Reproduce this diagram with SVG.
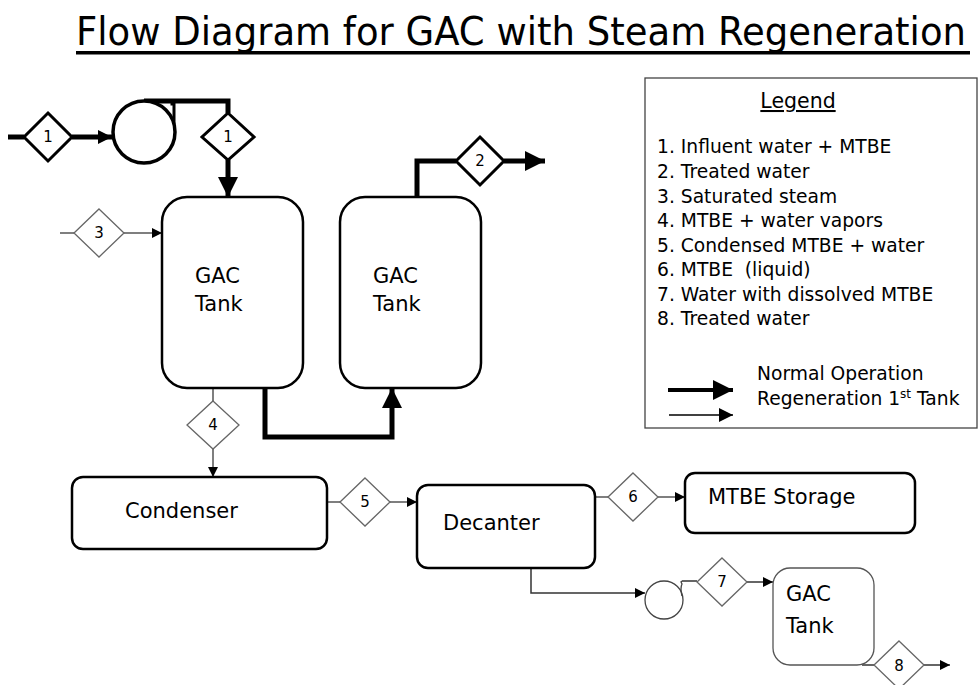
<svg xmlns="http://www.w3.org/2000/svg" width="978" height="685" viewBox="0 0 978 685">
<defs>
<marker id="ah" viewBox="0 0 10 10" refX="10" refY="5" markerWidth="10" markerHeight="10" markerUnits="userSpaceOnUse" orient="auto"><path d="M0,0 L10,5 L0,10 z" fill="#000"/></marker>
<marker id="ahb" viewBox="0 0 10 10" refX="10" refY="5" markerWidth="20" markerHeight="20" markerUnits="userSpaceOnUse" orient="auto"><path d="M0,0 L10,5 L0,10 z" fill="#000"/></marker>
<marker id="ahm" viewBox="0 0 10 10" refX="10" refY="5" markerWidth="14" markerHeight="14" markerUnits="userSpaceOnUse" orient="auto"><path d="M0,0 L10,5 L0,10 z" fill="#000"/></marker>
</defs>
<style>
text{font-family:"DejaVu Sans","Liberation Sans",sans-serif;fill:#000}
.box{fill:#fff;stroke:#000;stroke-width:2.5}
.boxg{fill:#fff;stroke:#555;stroke-width:1.3}
.dk{fill:#fff;stroke:#000;stroke-width:3}
.dg{fill:#fff;stroke:#666;stroke-width:1.3}
.thick{fill:none;stroke:#000;stroke-width:5}
.thin{fill:none;stroke:#555;stroke-width:1.5}
.thinb{fill:none;stroke:#333;stroke-width:1.5}
.lbl{font-size:21px}
.num{font-size:15px;text-anchor:middle}
.leg{font-size:18.7px}
</style>
<rect width="978" height="685" fill="#fff"/>
<g id="title">
<text transform="translate(76,45) scale(1,1.12)" x="0" y="0" font-family="DejaVu Sans Condensed" font-size="35" textLength="890" lengthAdjust="spacingAndGlyphs">Flow Diagram for GAC with Steam Regeneration</text>
<rect x="76" y="51" width="894" height="3.5" fill="#000"/>
</g>
<g id="connectors">
<line class="thick" x1="8" y1="137" x2="24" y2="137"/>
<line class="thick" x1="72" y1="137" x2="112" y2="137" marker-end="url(#ahm)" stroke-width="4"/>
<path class="thick" d="M144,101 H228 V113" stroke-width="4"/>
<line class="thick" x1="228" y1="160" x2="228" y2="197" marker-end="url(#ahb)" stroke-width="5"/>
<line class="thin" x1="60" y1="233" x2="74" y2="233"/>
<line class="thin" x1="124" y1="233" x2="162" y2="233" marker-end="url(#ah)"/>
<path class="thick" d="M417,197 V161 H456" stroke-width="5"/>
<line class="thick" x1="504" y1="161" x2="545" y2="161" marker-end="url(#ahb)" stroke-width="3"/>
<path class="thick" d="M265,388 V437 H392 V388" marker-end="url(#ahb)" stroke-width="5"/>
<line class="thin" x1="213" y1="388" x2="213" y2="401"/>
<line class="thin" x1="213" y1="449" x2="213" y2="477" marker-end="url(#ah)"/>
<line class="thin" x1="327" y1="502" x2="340" y2="502"/>
<line class="thin" x1="390" y1="502" x2="417" y2="502" marker-end="url(#ah)"/>
<line class="thin" x1="595" y1="497" x2="608" y2="497"/>
<line class="thin" x1="658" y1="497" x2="685" y2="497" marker-end="url(#ah)"/>
<path class="thinb" d="M531,568 V593 H645" marker-end="url(#ah)"/>
<line class="thinb" x1="682" y1="581" x2="697" y2="581"/>
<line class="thinb" x1="747" y1="582" x2="773" y2="582" marker-end="url(#ah)"/>
<line class="thinb" x1="862" y1="665" x2="874" y2="665"/>
<line class="thinb" x1="924" y1="665" x2="950" y2="665" marker-end="url(#ah)"/>
</g>
<g id="s1a"><path class="dk" d="M48,113 L72,137 L48,161 L24,137 Z"/><text class="num" x="48" y="142">1</text></g>
<g id="pump1">
<circle cx="144" cy="132" r="31" fill="#fff" stroke="#000" stroke-width="3.5"/>
<path d="M174,124 V104 L172,104 V101" fill="none" stroke="#000" stroke-width="3"/>
</g>
<g id="s1b"><path class="dk" d="M228,113 L254,137 L228,160 L202,137 Z"/><text class="num" x="228" y="142">1</text></g>
<g id="s3"><path class="dg" d="M99,209 L124,233 L99,257 L74,233 Z"/><text class="num" x="99" y="238">3</text></g>
<g id="tank1"><rect class="box" x="162" y="197" width="141" height="191" rx="25"/><text class="lbl" x="195" y="283">GAC</text><text class="lbl" x="195" y="311">Tank</text></g>
<g id="tank2"><rect class="box" x="340" y="197" width="141" height="191" rx="25"/><text class="lbl" x="373" y="283">GAC</text><text class="lbl" x="373" y="311">Tank</text></g>
<g id="s2"><path class="dk" d="M480,137 L504,161 L480,185 L456,161 Z"/><text class="num" x="480" y="166">2</text></g>
<g id="s4"><path class="dg" d="M213,401 L239,425 L213,449 L187,425 Z"/><text class="num" x="213" y="430">4</text></g>
<g id="condenser"><rect class="box" x="72" y="477" width="255" height="72" rx="11"/><text class="lbl" x="125" y="518">Condenser</text></g>
<g id="s5"><path class="dg" d="M365,478 L390,502 L365,526 L340,502 Z"/><text class="num" x="365" y="507">5</text></g>
<g id="decanter"><rect class="box" x="417" y="485" width="178" height="83" rx="11"/><text class="lbl" x="443" y="530">Decanter</text></g>
<g id="s6"><path class="dg" d="M633,473 L658,497 L633,521 L608,497 Z"/><text class="num" x="633" y="502">6</text></g>
<g id="storage"><rect class="box" x="685" y="473" width="230" height="60" rx="10"/><text class="lbl" x="708" y="504">MTBE Storage</text></g>
<g id="pump2">
<circle cx="664" cy="600" r="19" fill="#fff" stroke="#444" stroke-width="1.3"/>
<path d="M682,596 Q680,588 682,584 L681,582 L682,581" fill="none" stroke="#444" stroke-width="1.3"/>
</g>
<g id="s7"><path class="dg" d="M722,558 L747,582 L722,606 L697,582 Z"/><text class="num" x="722" y="587">7</text></g>
<g id="tank3"><rect class="boxg" x="773" y="568" width="101" height="97" rx="17"/><text class="lbl" x="786" y="601">GAC</text><text class="lbl" x="786" y="633">Tank</text></g>
<g id="s8"><path class="dg" d="M899,641 L924,665 L899,689 L874,665 Z"/><text class="num" x="899" y="671">8</text></g>
<g id="legend">
<rect x="645" y="78" width="332" height="350" fill="#fff" stroke="#444" stroke-width="1.3"/>
<text x="798" y="108" font-size="20.5" text-anchor="middle" text-decoration="underline">Legend</text>
<text class="leg" x="657" y="153">1. Influent water + MTBE</text>
<text class="leg" x="657" y="178">2. Treated water</text>
<text class="leg" x="657" y="203">3. Saturated steam</text>
<text class="leg" x="657" y="227">4. MTBE + water vapors</text>
<text class="leg" x="657" y="252">5. Condensed MTBE + water</text>
<text class="leg" x="657" y="276" xml:space="preserve">6. MTBE  (liquid)</text>
<text class="leg" x="657" y="301">7. Water with dissolved MTBE</text>
<text class="leg" x="657" y="325">8. Treated water</text>
<text class="leg" x="757" y="380">Normal Operation</text>
<text class="leg" x="757" y="405">Regeneration 1<tspan font-size="12" dy="-7">st</tspan><tspan dy="7"> Tank</tspan></text>
<line x1="668" y1="390" x2="733" y2="390" stroke="#000" stroke-width="4" marker-end="url(#ahb)"/>
<line x1="669" y1="415" x2="733" y2="415" stroke="#000" stroke-width="1.5" marker-end="url(#ahm)"/>
</g>
</svg>
